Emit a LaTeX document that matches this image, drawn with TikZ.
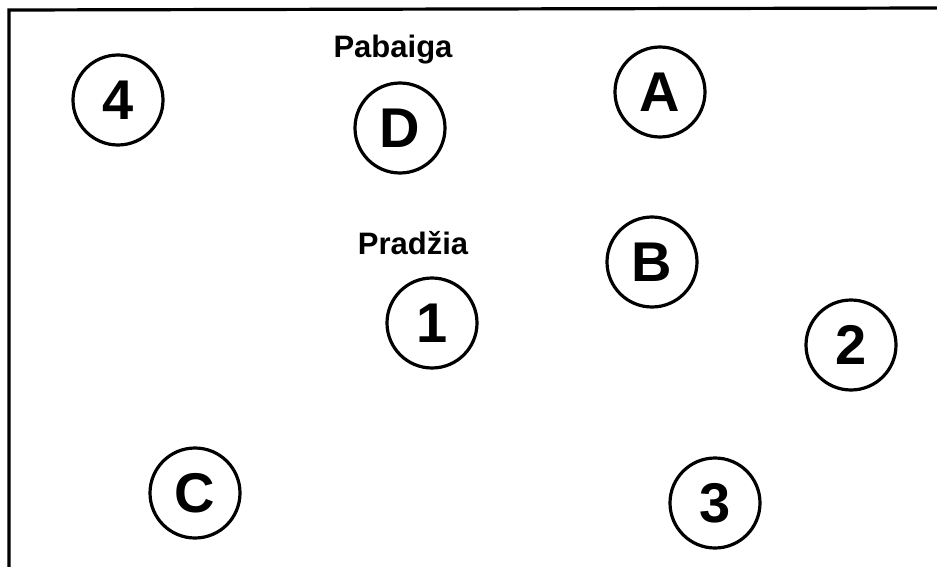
\documentclass[tikz,border=0pt]{standalone}
\usepackage{fontspec}
\setmainfont{Liberation Sans}
\begin{document}
\begin{tikzpicture}[
  x=1pt, y=-1pt,
  dot/.style={draw, circle, line width=3.2pt, minimum size=90pt, inner sep=0pt,
    font=\fontsize{56}{56}\selectfont\bfseries},
  tag/.style={font=\fontsize{31}{31}\selectfont\bfseries, inner sep=0pt}
]
\useasboundingbox (0,0) rectangle (937,567);
% frame (right and bottom edges are cut off)
\draw[line width=3.2pt] (9,567) -- (9,10) -- (937,8);
% circles
\node[dot] (four) at (118,100) {4};
\node[dot] (endD) at (400,128) {D};
\node[dot] (letA) at (660,92) {A};
\node[dot] (letB) at (652,262) {B};
\node[dot] (one) at (432,323) {1};
\node[dot] (two) at (851,345) {2};
\node[dot] (letC) at (195,493) {C};
\node[dot] (three) at (715,503) {3};
% labels
\node[tag] (pabaiga) at (393,50) {Pabaiga};
\node[tag] (pradzia) at (413,243) {Pradžia};
\end{tikzpicture}
\end{document}
